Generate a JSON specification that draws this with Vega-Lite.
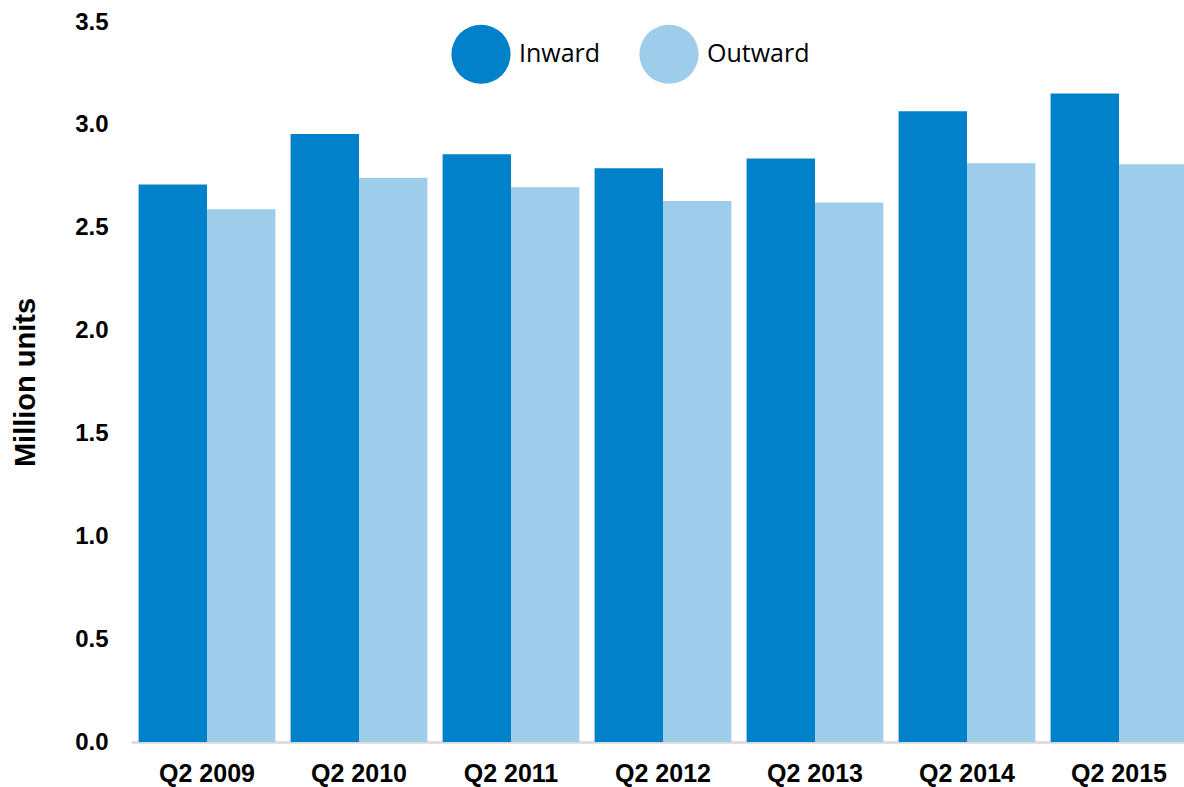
{
  "$schema": "https://vega.github.io/schema/vega-lite/v6.json",
  "autosize": {"type": "none"},
  "width": 1053,
  "height": 720,
  "padding": {"left": 131, "top": 22, "right": 0, "bottom": 45},
  "background": "white",
  "config": {"view": {"stroke": null}},
  "data": {"values": [
    {"quarter": "Q2 2009", "dir": "Inward", "v": 2.71},
    {"quarter": "Q2 2009", "dir": "Outward", "v": 2.59},
    {"quarter": "Q2 2010", "dir": "Inward", "v": 2.955},
    {"quarter": "Q2 2010", "dir": "Outward", "v": 2.743},
    {"quarter": "Q2 2011", "dir": "Inward", "v": 2.857},
    {"quarter": "Q2 2011", "dir": "Outward", "v": 2.697},
    {"quarter": "Q2 2012", "dir": "Inward", "v": 2.789},
    {"quarter": "Q2 2012", "dir": "Outward", "v": 2.63},
    {"quarter": "Q2 2013", "dir": "Inward", "v": 2.836},
    {"quarter": "Q2 2013", "dir": "Outward", "v": 2.622},
    {"quarter": "Q2 2014", "dir": "Inward", "v": 3.066},
    {"quarter": "Q2 2014", "dir": "Outward", "v": 2.813},
    {"quarter": "Q2 2015", "dir": "Inward", "v": 3.152},
    {"quarter": "Q2 2015", "dir": "Outward", "v": 2.808}
  ]},
  "mark": {"type": "bar"},
  "encoding": {
    "x": {
      "field": "quarter", "type": "nominal", "sort": null,
      "scale": {"range": [0, 1064], "paddingInner": 0.1, "paddingOuter": 0.05},
      "axis": {
        "title": null, "labelAngle": 0, "ticks": false,
        "domainColor": "#d9d9d9", "domainWidth": 2.5,
        "labelFont": "Liberation Sans", "labelFontWeight": "bold", "labelFontSize": 25,
        "labelColor": "#000000", "labelPadding": 19, "labelBaseline": "top"
      }
    },
    "xOffset": {"field": "dir", "type": "nominal", "scale": {"paddingInner": 0, "paddingOuter": 0}},
    "y": {
      "field": "v", "type": "quantitative",
      "scale": {"domain": [0, 3.5], "nice": false},
      "axis": {
        "title": "Million units", "values": [0, 0.5, 1, 1.5, 2, 2.5, 3, 3.5],
        "format": ".1f", "grid": false, "ticks": false, "domain": false,
        "labelFont": "Liberation Sans", "labelFontWeight": "bold", "labelFontSize": 24,
        "labelColor": "#000000", "labelPadding": 23,
        "titleFont": "Liberation Sans", "titleFontWeight": "bold", "titleFontSize": 29,
        "titleColor": "#000000", "titlePadding": 34
      }
    },
    "color": {
      "field": "dir", "type": "nominal",
      "scale": {"domain": ["Inward", "Outward"], "range": ["#0081CA", "#9DCDEA"]},
      "legend": {
        "title": null, "orient": "none", "direction": "horizontal",
        "legendX": 320, "legendY": 2,
        "symbolType": "circle", "symbolSize": 3500, "symbolStrokeWidth": 0,
        "labelFont": "Open Sans", "labelFontSize": 25, "labelColor": "#000000",
        "labelOffset": 8, "columnPadding": 38
      }
    }
  }
}
